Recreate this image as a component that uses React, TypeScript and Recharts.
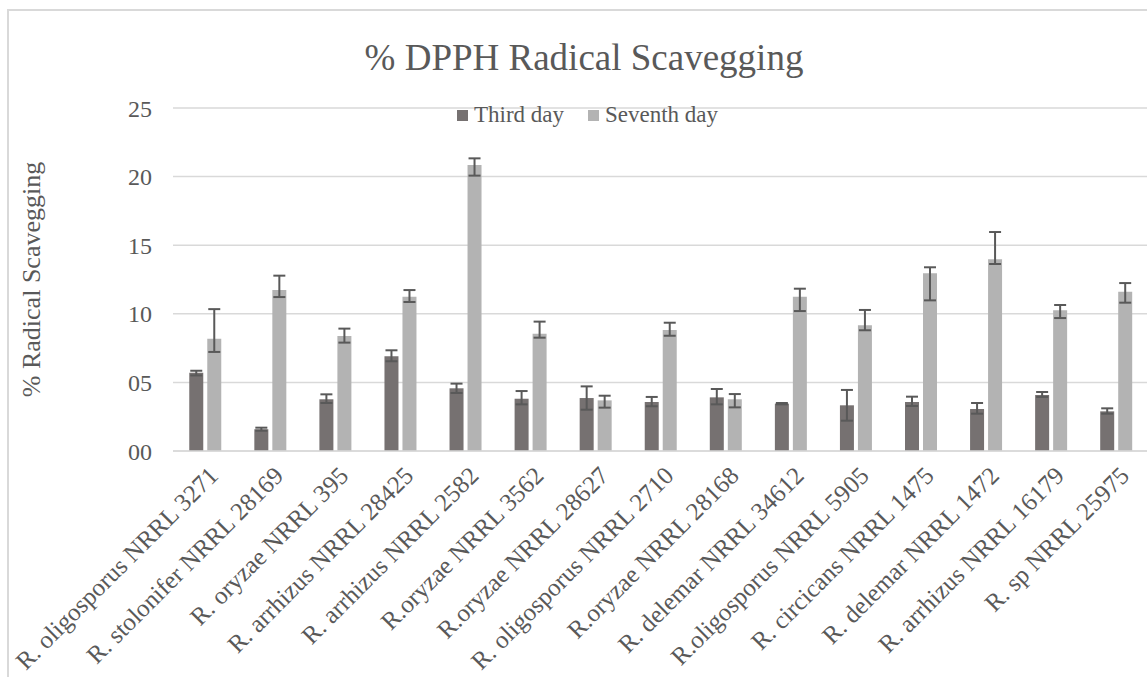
import React from "react";
import {
  BarChart,
  Bar,
  XAxis,
  YAxis,
  CartesianGrid,
  Legend,
  ErrorBar,
} from "recharts";

const strains = [
  "R. oligosporus NRRL 3271",
  "R. stolonifer NRRL 28169",
  "R. oryzae NRRL 395",
  "R. arrhizus NRRL 28425",
  "R. arrhizus NRRL 2582",
  "R.oryzae NRRL 3562",
  "R.oryzae NRRL 28627",
  "R. oligosporus NRRL 2710",
  "R.oryzae NRRL 28168",
  "R. delemar NRRL 34612",
  "R.oligosporus NRRL 5905",
  "R. circicans NRRL 1475",
  "R. delemar NRRL 1472",
  "R. arrhizus NRRL 16179",
  "R. sp NRRL 25975",
];

const thirdDay = [5.7, 1.58, 3.77, 6.9, 4.57, 3.81, 3.86, 3.57, 3.91, 3.45, 3.33, 3.57, 3.06, 4.08, 2.89];
const thirdLow = [0.19, 0.1, 0.27, 0.36, 0.34, 0.41, 0.85, 0.31, 0.51, 0.05, 1.12, 0.29, 0.34, 0.14, 0.17];
const thirdHigh = [0.15, 0.12, 0.36, 0.44, 0.34, 0.56, 0.85, 0.37, 0.61, 0.05, 1.12, 0.39, 0.44, 0.22, 0.22];

const seventhDay = [8.19, 11.73, 8.38, 11.25, 20.85, 8.55, 3.69, 8.82, 3.77, 11.25, 9.16, 12.95, 13.97, 10.25, 11.61];
const seventhLow = [0.97, 0.51, 0.48, 0.39, 0.78, 0.29, 0.53, 0.42, 0.59, 1.05, 0.36, 1.97, 0.34, 0.56, 0.8];
const seventhHigh = [2.15, 1.05, 0.54, 0.48, 0.48, 0.88, 0.34, 0.53, 0.38, 0.58, 1.12, 0.44, 1.99, 0.39, 0.63];

const yTicks = [0, 5, 10, 15, 20, 25];

const data = strains.map((name, i) => ({
  name,
  third: thirdDay[i],
  thirdErr: [thirdLow[i], thirdHigh[i]],
  seventh: seventhDay[i],
  seventhErr: [seventhLow[i], seventhHigh[i]],
}));

const FONT = "'Liberation Serif', 'Times New Roman', serif";
const TEXT = "#595959";
const DARK = "#767171";
const LIGHT = "#b3b3b3";

const AngledTick = ({ x, y, payload }: any) => (
  <g transform={`translate(${x + 8},${y + 20})`}>
    <text
      transform="rotate(-45)"
      textAnchor="end"
      dy="0.35em"
      fill={TEXT}
      fontSize={25}
      fontFamily={FONT}
    >
      {payload.value}
    </text>
  </g>
);

const LegendBox = () => (
  <div
    style={{
      display: "flex",
      justifyContent: "center",
      gap: 24,
      fontFamily: FONT,
      fontSize: 23,
      color: TEXT,
      lineHeight: "26px",
    }}
  >
    {[
      ["Third day", DARK],
      ["Seventh day", LIGHT],
    ].map(([label, color]) => (
      <span key={label} style={{ display: "flex", alignItems: "center" }}>
        <span style={{ width: 11, height: 11, background: color, marginRight: 6 }} />
        {label}
      </span>
    ))}
  </div>
);

export default function App() {
  return (
    <div
      style={{
        position: "absolute",
        left: 0,
        top: 0,
        width: 1147,
        height: 677,
        overflow: "hidden",
        background: "#fff",
      }}
    >
      <div
        style={{
          position: "absolute",
          left: 7,
          top: 9,
          width: 1200,
          height: 700,
          borderTop: "2px solid #d9d9d9",
          borderLeft: "2px solid #d9d9d9",
        }}
      />
      <div
        style={{
          position: "absolute",
          left: 0,
          top: 36,
          width: 1168,
          textAlign: "center",
          fontFamily: FONT,
          fontSize: 37,
          color: TEXT,
          lineHeight: "44px",
        }}
      >
        % DPPH Radical Scavegging
      </div>
      <BarChart
        width={1152}
        height={677}
        data={data}
        margin={{ top: 108, right: 3, bottom: 26, left: 0 }}
        barCategoryGap="25%"
        barGap={4}
        style={{ position: "absolute", left: 0, top: 0 }}
      >
        <CartesianGrid vertical={false} stroke="#d9d9d9" strokeWidth={1.5} />
        <XAxis
          dataKey="name"
          interval={0}
          height={200}
          tickLine={false}
          tickSize={0}
          tickMargin={0}
          axisLine={{ stroke: "#d9d9d9", strokeWidth: 1.5 }}
          tick={<AngledTick />}
        />
        <YAxis
          width={173}
          domain={[0, 25]}
          ticks={yTicks}
          axisLine={false}
          tickLine={false}
          tickSize={0}
          tickMargin={21}
          tickFormatter={(v: number) => String(v).padStart(2, "0")}
          tick={{ fill: TEXT, fontSize: 24, fontFamily: FONT }}
          label={{
            value: "% Radical Scavegging",
            angle: -90,
            position: "center",
            dx: -56,
            fill: TEXT,
            fontSize: 26,
            fontFamily: FONT,
          }}
        />
        <Legend
          verticalAlign="middle"
          content={<LegendBox />}
          wrapperStyle={{ top: 102, left: 0, width: 1175 }}
        />
        <Bar dataKey="third" name="Third day" fill={DARK} isAnimationActive={false}>
          <ErrorBar
            dataKey="thirdErr"
            direction="y"
            width={6}
            stroke={TEXT}
            strokeWidth={2}
            isAnimationActive={false}
          />
        </Bar>
        <Bar dataKey="seventh" name="Seventh day" fill={LIGHT} isAnimationActive={false}>
          <ErrorBar
            dataKey="seventhErr"
            direction="y"
            width={6}
            stroke={TEXT}
            strokeWidth={2}
            isAnimationActive={false}
          />
        </Bar>
      </BarChart>
    </div>
  );
}
